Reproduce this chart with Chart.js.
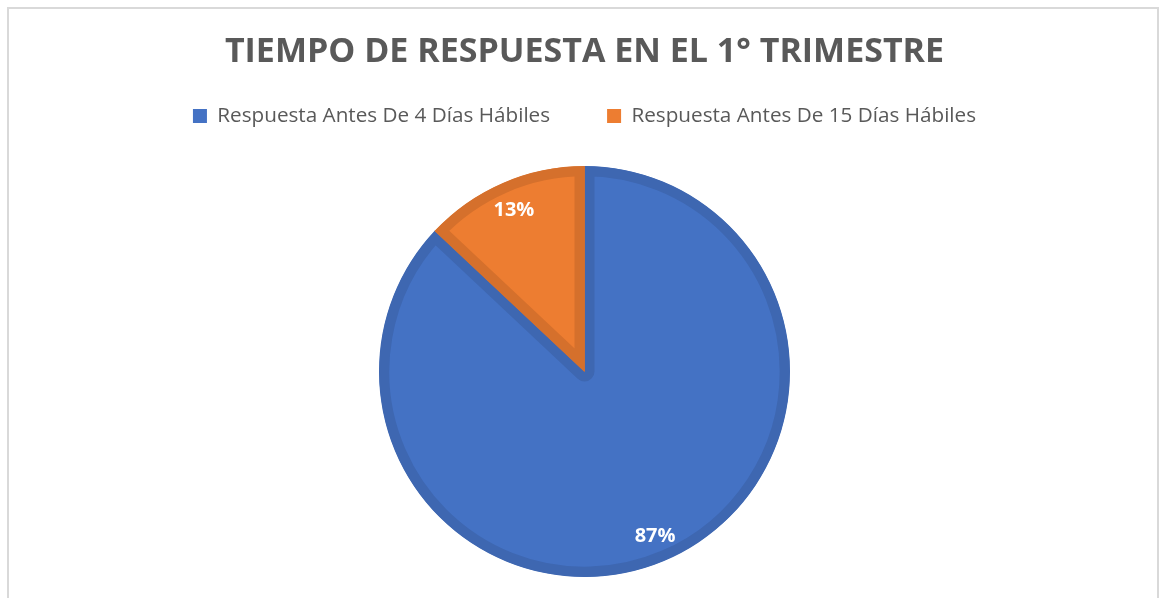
<!DOCTYPE html>
<html>
<head>
<meta charset="utf-8">
<script src="https://cdn.jsdelivr.net/npm/chart.js@4.4.1/dist/chart.umd.min.js"></script>
<style>
  html, body { margin: 0; padding: 0; background: #fff; }
  #frame {
    position: absolute; left: 7px; top: 7px; width: 1148px; height: 600px;
    border: 2px solid #d9d9d9; border-bottom: none;
  }
  #wrap { position: absolute; left: 0; top: 0; width: 1159px; height: 598px; }
</style>
</head>
<body>
<div id="frame"></div>
<div id="wrap"><canvas id="pieChart"></canvas></div>
<script>
// data
const categories = ['Respuesta Antes De 4 Días Hábiles', 'Respuesta Antes De 15 Días Hábiles'];
const values = [87, 13];
const fillColors = ['#4472c4', '#ed7d31'];
const edgeColors = ['#3e67b1', '#d5702c'];
const chartTitle = 'TIEMPO DE RESPUESTA EN EL 1° TRIMESTRE';

// percent labels inside slices
const sliceLabels = {
    id: 'sliceLabels',
    afterDatasetsDraw(chart) {
        const ctx = chart.ctx;
        const meta = chart.getDatasetMeta(0);
        const total = values.reduce((a, b) => a + b, 0);
        ctx.save();
        ctx.fillStyle = '#ffffff';
        ctx.font = 'bold 20px "Open Sans"';
        ctx.textAlign = 'center';
        ctx.textBaseline = 'middle';
        meta.data.forEach((arc, i) => {
            const mid = (arc.startAngle + arc.endAngle) / 2;
            const r = arc.outerRadius * 0.865;
            const x = arc.x + Math.cos(mid) * r;
            const y = arc.y + Math.sin(mid) * r + 2;
            ctx.fillText(Math.round(values[i] / total * 100) + '%', x, y);
        });
        ctx.restore();
    }
};

const ctx = document.getElementById('pieChart');
const pieChart = new Chart(ctx, {
    type: 'pie',
    data: {
        labels: categories,
        datasets: [{
            data: values,
            backgroundColor: fillColors,
            borderColor: edgeColors,
            borderWidth: 10,
            borderAlign: 'inner'
        }]
    },
    options: {
        responsive: true,
        maintainAspectRatio: false,
        animation: false,
        layout: { padding: { top: 0, bottom: 21, left: 10, right: 0 } },
        plugins: {
            title: {
                display: true,
                text: chartTitle,
                color: '#595959',
                font: { family: '"Open Sans"', size: 34, weight: 'bold' },
                padding: { top: 31.6, bottom: -23.7 }
            },
            // empty spacer between legend and pie
            subtitle: {
                display: true,
                text: '',
                weight: 500,
                font: { size: 1, lineHeight: 1 },
                padding: { top: 0, bottom: 28.6 }
            },
            legend: {
                position: 'top',
                labels: {
                    color: '#595959',
                    font: { family: '"Open Sans"', size: 20.7 },
                    boxWidth: 14,
                    boxHeight: 14,
                    padding: 57,
                    generateLabels(chart) {
                        return categories.map((c, i) => ({
                            text: c,
                            fillStyle: fillColors[i],
                            strokeStyle: fillColors[i],
                            lineWidth: 0,
                            fontColor: '#595959',
                            index: i
                        }));
                    }
                }
            },
            tooltip: { enabled: false }
        }
    },
    plugins: [sliceLabels]
});
</script>
</body>
</html>
